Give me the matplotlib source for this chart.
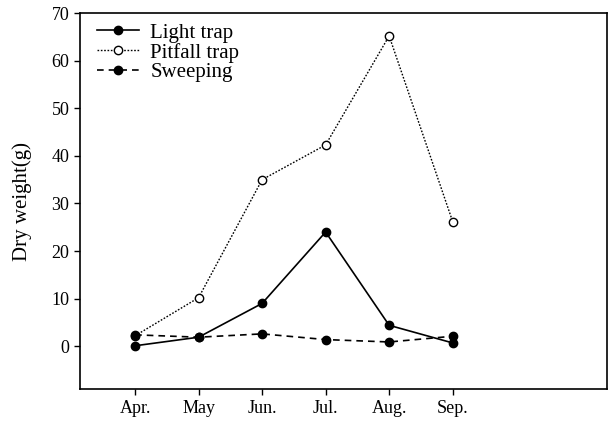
import matplotlib.pyplot as plt

plt.rcParams['font.family'] = ['Liberation Serif', 'DejaVu Serif']

months = ["Apr.", "May", "Jun.", "Jul.", "Aug.", "Sep."]
light_trap = [0.1, 1.9, 9.0, 24.0, 4.4, 0.7]
pitfall_trap = [2.2, 10.2, 35.0, 42.3, 65.2, 26.2]
sweeping = [2.4, 1.9, 2.6, 1.4, 0.9, 2.1]

x = list(range(len(months)))

fig = plt.figure(figsize=(6.14, 4.22), dpi=100)
ax = fig.add_axes([0.130, 0.078, 0.8586, 0.891])

ax.plot(x, light_trap, color="black", linestyle="-", linewidth=1.2,
        marker="o", markersize=6, markerfacecolor="black", label="Light trap")
ax.plot(x, pitfall_trap, color="black", linestyle=(0, (1.2, 1.2)), linewidth=1.0,
        marker="o", markersize=6, markerfacecolor="white", label="Pitfall trap")
ax.plot(x, sweeping, color="black", linestyle=(0, (4, 3)), linewidth=1.2,
        marker="o", markersize=6, markerfacecolor="black", label="Sweeping")

ax.set_xlim(-0.87, 7.43)
ax.set_ylim(-9, 70)
ax.set_yticks(range(0, 71, 10))
ax.set_xticks(x)
ax.set_xticklabels(months)
ax.tick_params(direction="out", length=4, width=1, labelsize=13)
ax.set_ylabel("Dry weight(g)", fontsize=15, labelpad=14)

for spine in ax.spines.values():
    spine.set_linewidth(1.2)

ax.legend(loc="upper left", bbox_to_anchor=(0.005, 1.012), frameon=False,
          fontsize=15, handlelength=2.0, handletextpad=0.55,
          labelspacing=0.0, borderaxespad=0.3)

fig.savefig("out.png", dpi=100)
